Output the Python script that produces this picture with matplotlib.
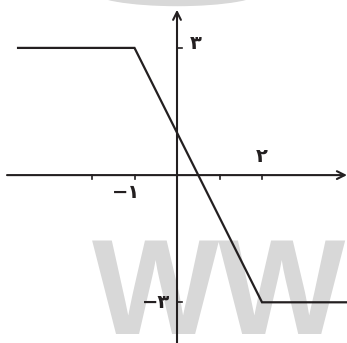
import matplotlib
matplotlib.use("Agg")
import matplotlib.pyplot as plt
from matplotlib.patches import Ellipse

# data
func_x = [-3.74, -1, 2, 4.0]
func_y = [3, 3, -3, -3]
xtick_pos = [-2, -1, 1, 2]
ytick_pos = [3, -3]
label_text = ["\u06F3", "\u06F2", "\u2212\u06F1", "\u2212\u06F3"]
label_x = [0.45, 2.0, -1.2, -0.5]
label_y = [3.1, 0.45, -0.4, -3.0]

W, H = 347, 343
fig = plt.figure(figsize=(W / 100, H / 100), dpi=100)
ax = fig.add_axes([0, 0, 1, 1])
ax.set_xlim(-4.165, 4.0)
ax.set_ylim(-3.96, 4.13)
ax.axis("off")

gray = "#d8d8d8"
# watermark
ax.add_patch(Ellipse((0.0, 4.35), 4.0, 0.7, color=gray, zorder=0))
ax.text(-2.0, -3.75, "WW", fontsize=97, fontweight="bold", color=gray,
        family="Liberation Sans", ha="left", va="baseline", zorder=0, clip_on=True)

col = "#231f20"
# axes with arrows
ax.annotate("", xy=(4.0, 0), xytext=(-4.0, 0),
            arrowprops=dict(arrowstyle="->", lw=1.5, color=col, mutation_scale=14,
                            shrinkA=0, shrinkB=0))
ax.annotate("", xy=(0, 3.9), xytext=(0, -3.96),
            arrowprops=dict(arrowstyle="->", lw=1.5, color=col, mutation_scale=14,
                            shrinkA=0, shrinkB=0))
for xt in xtick_pos:
    ax.plot([xt, xt], [0, -0.1], color=col, lw=1.2)
for yt in ytick_pos:
    ax.plot([0, 0.12], [yt, yt], color=col, lw=1.2)

ax.plot(func_x, func_y, color=col, lw=1.6, solid_joinstyle="miter")

for t, x, y in zip(label_text, label_x, label_y):
    ax.text(x, y, t, fontsize=14, fontweight="bold", color=col, family="DejaVu Sans",
            ha="center", va="center")

fig.savefig("out.png", dpi=100)
